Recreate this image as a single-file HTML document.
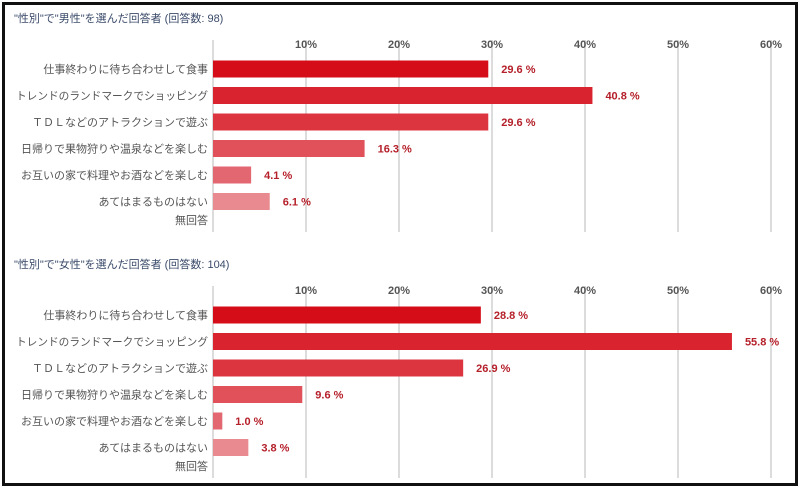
<!DOCTYPE html>
<html><head><meta charset="utf-8"><style>
body{margin:0;background:#fff;}
#wrap{position:relative;width:800px;height:490px;overflow:hidden;background:#fff;}
#frame{position:absolute;left:2px;top:2px;width:790px;height:478px;border:3px solid #111;}
svg text{font-family:"Liberation Sans","Noto Sans CJK JP",sans-serif;}
</style></head><body>
<div id="wrap">
<div id="frame"></div>
<svg id="svg" width="800" height="490" style="position:absolute;left:0;top:0"></svg>
</div>
<script>
const categories=["仕事終わりに待ち合わせして食事","トレンドのランドマークでショッピング","ＴＤＬなどのアトラクションで遊ぶ","日帰りで果物狩りや温泉などを楽しむ","お互いの家で料理やお酒などを楽しむ","あてはまるものはない","無回答"];
const maleValues=[29.6,40.8,29.6,16.3,4.1,6.1,0];
const femaleValues=[28.8,55.8,26.9,9.6,1.0,3.8,0];
const tickValues=[10,20,30,40,50,60];
const titles=["\"性別\"で\"男性\"を選んだ回答者 (回答数: 98)","\"性別\"で\"女性\"を選んだ回答者 (回答数: 104)"];
const colors=["#d40d19","#d9232e","#dc3540","#e0515a","#e36770","#e98a90","#ee9fa4"];
const NS="http://www.w3.org/2000/svg";
const svg=document.getElementById('svg');
const x0=213,pxPer=9.3;
function xs(v){return x0+v*pxPer;}
function mk(tag,attrs,parent){const e=document.createElementNS(NS,tag);for(const k in attrs)e.setAttribute(k,attrs[k]);(parent||svg).appendChild(e);return e;}
function drawPanel(top,values,title,name){
  const g=mk('g',{});
  
  
  const t=mk('text',{x:14,y:top+4,'font-size':11,fill:'#3a4a6a'},g);t.textContent=title;
  
  
  const gTop=top+22,gBot=top+214;
  tickValues.forEach(v=>{
    const l=mk('line',{x1:xs(v),x2:xs(v),y1:gTop,y2:gBot,stroke:'#dcdcdc','stroke-width':2},g);
    
    
    const tx=mk('text',{x:xs(v),y:top+30,'font-size':11,'font-weight':'bold',fill:'#555','text-anchor':'middle'},g);
    tx.textContent=v+'%';
    
    
  });
  const ax=mk('line',{x1:x0,x2:x0,y1:gTop,y2:gBot,stroke:'#dcdcdc','stroke-width':2},g);
  
  
  categories.forEach((c,i)=>{
    const cy=top+51+i*26.5-(i==6?8:0);
    const lb=mk('text',{x:208,y:cy+4,'font-size':11,fill:'#555','text-anchor':'end'},g);
    lb.textContent=c;
    
    
    const w=lb.getComputedTextLength();
    if(w>192){lb.setAttribute('textLength',192);lb.setAttribute('lengthAdjust','spacingAndGlyphs');}
    const v=values[i];
    if(v>0){
      const r=mk('rect',{x:x0,y:cy-8.5,width:xs(v)-x0,height:17,fill:colors[i]},g);
      
      
      const vl=mk('text',{x:xs(v)+13,y:cy+4,'font-size':11,'font-weight':'bold',fill:'#b5202a'},g);
      vl.textContent=v.toFixed(1)+' %';
      
      
    }
  });
}
drawPanel(18,maleValues,titles[0],'male-chart');
drawPanel(264,femaleValues,titles[1],'female-chart');
</script>
</body></html>
